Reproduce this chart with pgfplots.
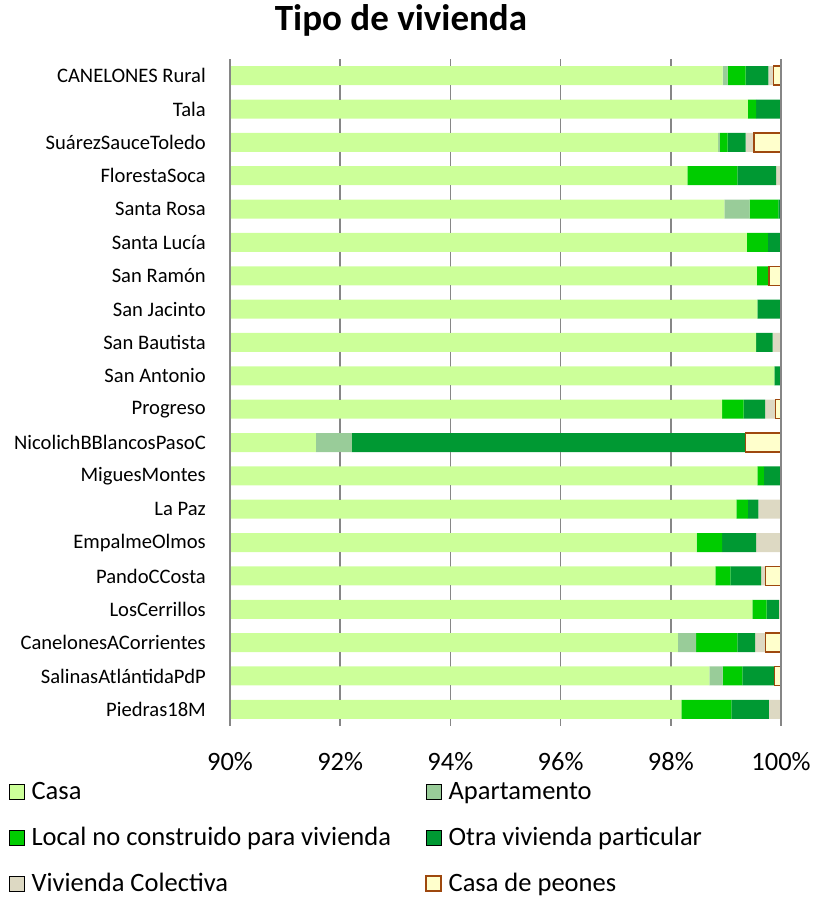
\documentclass[border=0pt]{standalone}
\usepackage{pgfplots}
\pgfplotsset{compat=1.18}
\usepackage{fontspec}
\setmainfont{Carlito}

\definecolor{casa}{RGB}{204,255,153}
\definecolor{apto}{RGB}{153,204,153}
\definecolor{local}{RGB}{0,204,0}
\definecolor{otra}{RGB}{0,153,51}
\definecolor{colect}{RGB}{221,217,195}
\definecolor{peonfill}{RGB}{255,255,204}
\definecolor{peonline}{RGB}{158,72,14}
\definecolor{gridgray}{RGB}{134,134,134}

\pgfplotsset{
  geom/.style={
    at={(230pt,171pt)}, anchor=south west,
    width=551pt, height=667pt, scale only axis,
    xbar stacked, bar width=19pt,
    xmin=90, xmax=100, ymin=-0.5, ymax=19.5, y dir=reverse,
  },
  sq/.style={legend image code/.code={\draw[##1] (0pt,-6.5pt) rectangle (15pt,8.5pt);}},
}

\begin{document}
\begin{tikzpicture}
\begin{axis}[
  geom,
  separate axis lines,
  axis x line*=bottom, axis y line*=left,
  x axis line style={draw=none},
  y axis line style={draw=gridgray, line width=2pt},
  xtick style={draw=none}, ytick style={draw=none},
  xmajorgrids, grid style={draw=gridgray, line width=1.5pt},
  xtick={90,92,94,96,98,100},
  xticklabels={90\%,92\%,94\%,96\%,98\%,100\%},
  xticklabel style={font=\fontsize{26.5}{30}\selectfont, inner sep=0pt, anchor=north},
  xticklabel shift=26pt,
  ytick={0,...,19},
  yticklabels={CANELONES Rural,Tala,SuárezSauceToledo,FlorestaSoca,Santa Rosa,Santa Lucía,San Ramón,San Jacinto,San Bautista,San Antonio,Progreso,NicolichBBlancosPasoC,MiguesMontes,La Paz,EmpalmeOlmos,PandoCCosta,LosCerrillos,CanelonesACorrientes,SalinasAtlántidaPdP,Piedras18M},
  yticklabel style={font=\fontsize{20.6}{24}\selectfont, inner sep=0pt, anchor=east},
  yticklabel shift=24pt,
  title={Tipo de vivienda},
  title style={font=\bfseries\fontsize{37}{40}\selectfont, at={(axis description cs:0.3103,1)}, anchor=base, yshift=23pt},
  legend columns=2,
  legend style={at={(axis description cs:-0.4011,-0.081)}, anchor=north west,
    draw=none, fill=none, inner sep=0pt,
    font=\fontsize{26.5}{30}\selectfont,
    nodes={inner sep=0pt, text height=19pt, text depth=6pt},
    row sep=21pt,
    /tikz/every odd column/.append style={column sep=7pt},
    /tikz/every even column/.append style={column sep=34pt}},
  legend cell align=left,
]
% Casa
\addplot[fill=casa, draw=none, sq] coordinates {
  (98.94,0) (99.40,1) (98.86,2) (98.30,3) (98.97,4) (99.38,5) (99.56,6) (99.57,7) (99.55,8) (99.88,9)
  (98.93,10) (91.56,11) (99.57,12) (99.19,13) (98.47,14) (98.81,15) (99.48,16) (98.13,17) (98.70,18) (98.19,19)};
\addlegendentry{Casa}
% Apartamento
\addplot[fill=apto, draw=none, sq] coordinates {
  (0.09,0) (0,1) (0.03,2) (0,3) (0.46,4) (0,5) (0,6) (0,7) (0,8) (0,9)
  (0,10) (0.65,11) (0,12) (0,13) (0,14) (0,15) (0,16) (0.33,17) (0.24,18) (0,19)};
\addlegendentry{Apartamento}
% Local no construido para vivienda
\addplot[fill=local, draw=none, sq] coordinates {
  (0.33,0) (0.15,1) (0.14,2) (0.91,3) (0.52,4) (0.38,5) (0.22,6) (0,7) (0,8) (0,9)
  (0.39,10) (0,11) (0.12,12) (0.21,13) (0.46,14) (0.27,15) (0.26,16) (0.75,17) (0.36,18) (0.91,19)};
\addlegendentry{Local no construido para vivienda}
% Otra vivienda particular
\addplot[fill=otra, draw=none, sq] coordinates {
  (0.41,0) (0.45,1) (0.33,2) (0.70,3) (0.05,4) (0.24,5) (0,6) (0.43,7) (0.30,8) (0.12,9)
  (0.39,10) (7.15,11) (0.31,12) (0.19,13) (0.62,14) (0.56,15) (0.22,16) (0.32,17) (0.58,18) (0.68,19)};
\addlegendentry{Otra vivienda particular}
% Vivienda Colectiva
\addplot[fill=colect, draw=none, sq] coordinates {
  (0.09,0) (0,1) (0.15,2) (0.09,3) (0,4) (0,5) (0,6) (0,7) (0.15,8) (0,9)
  (0.19,10) (0,11) (0,12) (0.41,13) (0.45,14) (0.08,15) (0.04,16) (0.19,17) (0,18) (0.22,19)};
\addlegendentry{Vivienda Colectiva}
\addlegendimage{fill=peonfill, draw=peonline, line width=1.5pt, sq}
\addlegendentry{Casa de peones}
\end{axis}
% overlay: grid lines in the gaps between bars, then Casa de peones
\begin{axis}[geom, hide axis, clip=false]
\pgfplotsinvokeforeach{92,94,96,98}{
  \draw[gridgray, line width=1.5pt, dash pattern=on 14.35pt off 19pt, dash phase=7.175pt]
    (axis cs:#1,-0.5) -- (axis cs:#1,19.5);
}
\draw[gridgray, line width=2pt] (axis cs:90,-0.5) -- (axis cs:90,19.5);
\draw[gridgray, line width=1.5pt] (axis cs:100,-0.5) -- (axis cs:100,19.5);
\addplot[draw=none, fill=none] coordinates {
  (99.86,0) (99.51,2) (99.78,6) (99.90,10) (99.36,11) (99.72,15) (99.72,17) (99.88,18)};
\addplot[fill=peonfill, draw=peonline, line width=1.5pt] coordinates {
  (0.14,0) (0.49,2) (0.22,6) (0.10,10) (0.64,11) (0.28,15) (0.28,17) (0.12,18)};
\end{axis}
\pgfresetboundingbox
\path[use as bounding box] (0,0) rectangle (824pt,897pt);
\end{tikzpicture}
\end{document}
